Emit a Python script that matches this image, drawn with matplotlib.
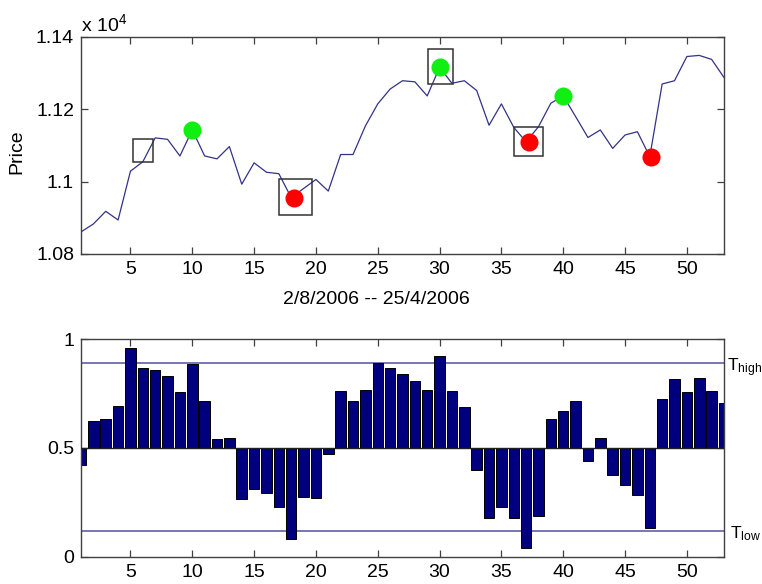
import matplotlib
matplotlib.use("Agg")
import matplotlib.pyplot as plt
from matplotlib.patches import Rectangle
from matplotlib.ticker import FuncFormatter
import numpy as np

plt.rcParams['font.family'] = ['Liberation Sans', 'DejaVu Sans']
plt.rcParams['mathtext.fontset'] = 'custom'
plt.rcParams['mathtext.rm'] = 'Liberation Sans'
plt.rcParams['mathtext.it'] = 'Liberation Sans'

days = list(range(1, 54))
price = [10861, 10883, 10918, 10894, 11029, 11055, 11121, 11117, 11071, 11143,
         11071, 11063, 11097, 10993, 11052, 11026, 11022, 10956, 10981, 11006,
         10974, 11075, 11075, 11154, 11215, 11256, 11279, 11276, 11237, 11316,
         11272, 11279, 11252, 11156, 11215, 11150, 11110, 11152, 11217, 11237,
         11180, 11122, 11143, 11092, 11129, 11138, 11069, 11270, 11279, 11346,
         11349, 11338, 11288]

green_x = [10, 30, 40]
green_y = [11143, 11316, 11237]
red_x = [18.25, 37.2, 47.1]
red_y = [10956, 11110, 11069]

box_x = [6, 18.35, 30.06, 37.19]
box_y = [11087, 10957, 11318, 11111]
box_w = [1.64, 2.66, 1.99, 2.28]
box_h = [63, 99, 97, 82]

signal = [0.42, 0.624, 0.635, 0.693, 0.959, 0.868, 0.860, 0.831, 0.758, 0.885,
          0.715, 0.540, 0.545, 0.264, 0.310, 0.293, 0.230, 0.081, 0.276, 0.271,
          0.471, 0.764, 0.715, 0.768, 0.893, 0.868, 0.839, 0.810, 0.768, 0.923,
          0.764, 0.690, 0.400, 0.176, 0.227, 0.176, 0.038, 0.189, 0.632, 0.669,
          0.715, 0.442, 0.545, 0.376, 0.330, 0.285, 0.130, 0.727, 0.818, 0.756,
          0.822, 0.761, 0.709]
baseline = 0.5
t_high = 0.893
t_low = 0.12

xticks = [5, 10, 15, 20, 25, 30, 35, 40, 45, 50]
price_ticks = [10800, 11000, 11200, 11400]
signal_ticks = [0, 0.5, 1]

fig = plt.figure(figsize=(7.62, 5.84), dpi=100)
ax1 = fig.add_axes([0.1063, 0.5651, 0.8438, 0.3716])
ax2 = fig.add_axes([0.1063, 0.0468, 0.8438, 0.3722])

spine_col = '#404040'
for ax in (ax1, ax2):
    for s in ax.spines.values():
        s.set_color(spine_col)
        s.set_linewidth(1.0)
    ax.tick_params(direction='in', length=5, width=0.9, color=spine_col,
                   top=True, right=True, labelsize=14, pad=5)
    ax.set_xlim(1, 53)
    ax.set_xticks(xticks)

# Top chart
ax1.plot(days, price, color='#32328a', lw=0.9, zorder=2)
for bx, by, bw, bh in zip(box_x, box_y, box_w, box_h):
    ax1.add_patch(Rectangle((bx - bw / 2, by - bh / 2), bw, bh, fill=False,
                            edgecolor='#333333', lw=1.1, zorder=3))
ax1.plot(green_x, green_y, 'o', color='#11ee11', markersize=13, mec='none', zorder=4)
ax1.plot(red_x, red_y, 'o', color='#ff0000', markersize=13, mec='none', zorder=4)
ax1.set_ylim(10800, 11400)
ax1.set_yticks(price_ticks)
ax1.yaxis.set_major_formatter(FuncFormatter(lambda v, p: ('%g' % (v / 1e4))))
ax1.text(0.0, 1.01, r'x 10$^{4}$', transform=ax1.transAxes, fontsize=14,
         ha='left', va='bottom')
ax1.set_ylabel('Price', fontsize=14)
ax1.yaxis.set_label_coords(-0.087, 0.47)
ax1.set_xlabel('2/8/2006 -- 25/4/2006', fontsize=14)
ax1.xaxis.set_label_coords(0.4596, -0.17)

# Bottom chart
heights = [v - baseline for v in signal]
ax2.bar(days, heights, bottom=baseline, width=0.85, color='#00007f',
        edgecolor='#000000', lw=0.7, zorder=2)
ax2.axhline(baseline, color='#202020', lw=1.0, zorder=3)
ax2.axhline(t_high, color='#6b6bab', lw=1.3, zorder=1)
ax2.axhline(t_low, color='#6b6bab', lw=1.3, zorder=1)
ax2.set_ylim(0, 1)
ax2.set_yticks(signal_ticks)
ax2.yaxis.set_major_formatter(FuncFormatter(lambda v, p: ('%g' % v)))
ax2.text(1.005, t_high - 0.041, r'T$_{\mathrm{high}}$',
         transform=ax2.get_yaxis_transform(),
         fontsize=12.5, ha='left', va='baseline')
ax2.text(1.010, t_low - 0.034, r'T$_{\mathrm{low}}$',
         transform=ax2.get_yaxis_transform(),
         fontsize=12.5, ha='left', va='baseline')

fig.savefig('out.png', dpi=100)
